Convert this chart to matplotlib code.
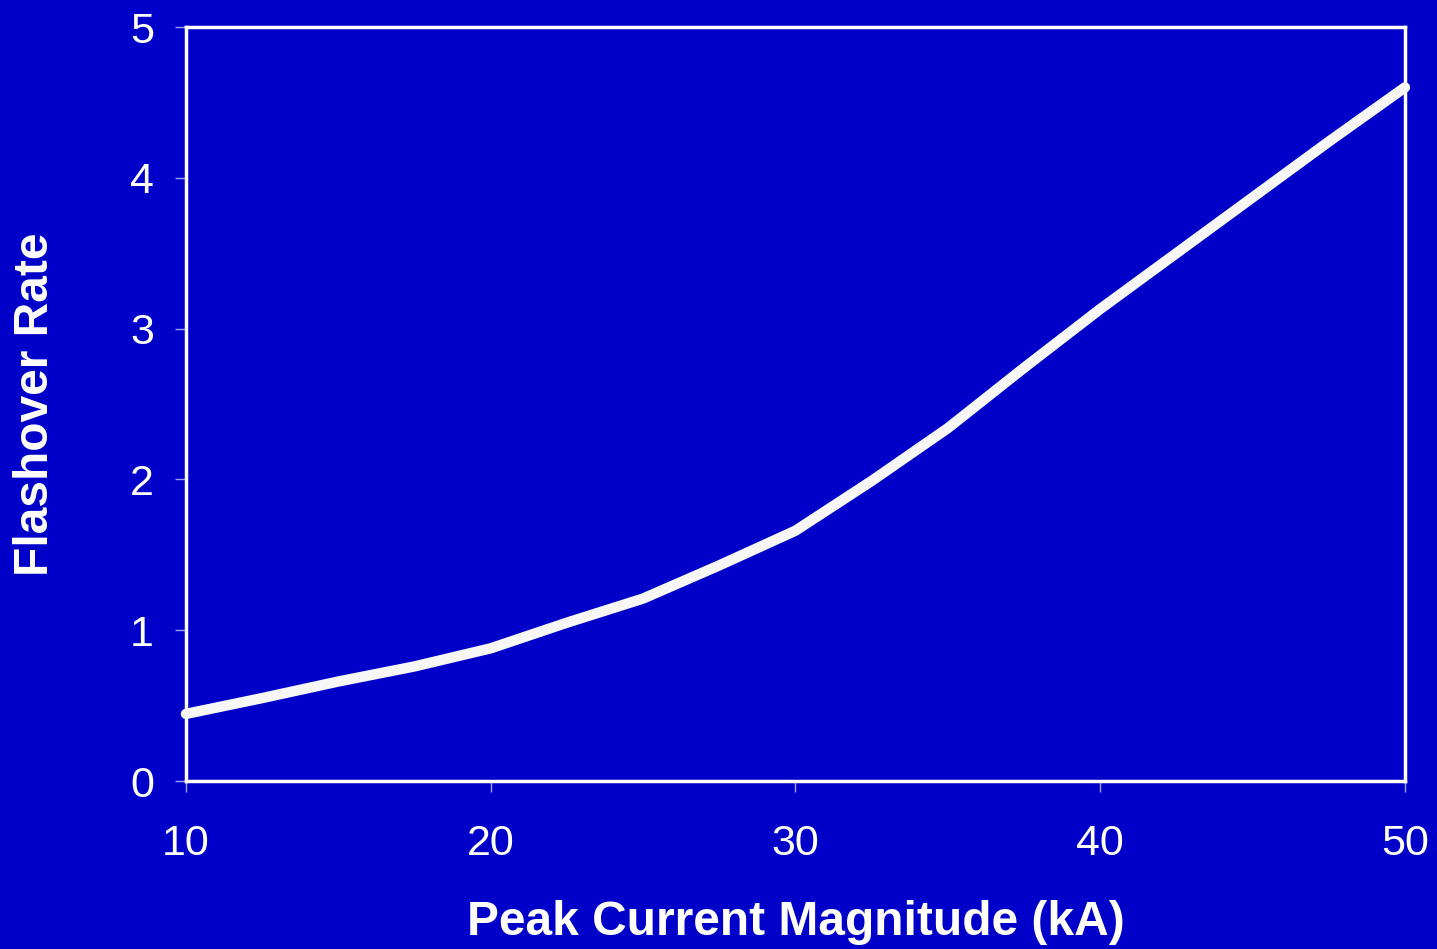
import matplotlib
matplotlib.use("Agg")
import matplotlib.pyplot as plt

# --- Data ---
peak_current = [10, 12.5, 15, 17.5, 20, 22.5, 25, 27.5, 30, 32.5, 35, 37.5, 40, 42.5, 45, 47.5, 50]
flashover_rate = [0.445, 0.55, 0.66, 0.76, 0.88, 1.05, 1.21, 1.43, 1.66, 1.99, 2.34, 2.74, 3.13, 3.50, 3.87, 4.24, 4.60]
x_ticks = [10, 20, 30, 40, 50]
y_ticks = [0, 1, 2, 3, 4, 5]

BG = "#0000C8"
plt.rcParams['font.family'] = ['Liberation Sans', 'DejaVu Sans']

fig = plt.figure(figsize=(14.37, 9.49), dpi=100, facecolor=BG)
ax = fig.add_axes([0.1294, 0.177, 0.8483, 0.7945])
ax.set_facecolor(BG)

ax.plot(peak_current, flashover_rate, color="#F7F7F7", lw=7.5, solid_capstyle="round",
        solid_joinstyle="round", clip_on=False, zorder=3)

ax.set_xlim(10, 50)
ax.set_ylim(0, 5)
ax.set_xticks(x_ticks)
ax.set_yticks(y_ticks)

for s in ax.spines.values():
    s.set_color("white")
    s.set_linewidth(2.5)

ax.tick_params(axis="both", direction="out", length=8, width=1, color="#A0A0F0",
               labelcolor="white", labelsize=31)
ax.tick_params(axis="y", pad=15)
ax.tick_params(axis="x", pad=23)

ax.set_xlabel("Peak Current Magnitude (kA)", color="white", fontsize=34.5,
              fontweight="bold", labelpad=26)
ax.set_ylabel("Flashover Rate", color="white", fontsize=34.5,
              fontweight="bold", labelpad=52)

fig.savefig("out.png", dpi=100, facecolor=BG)
